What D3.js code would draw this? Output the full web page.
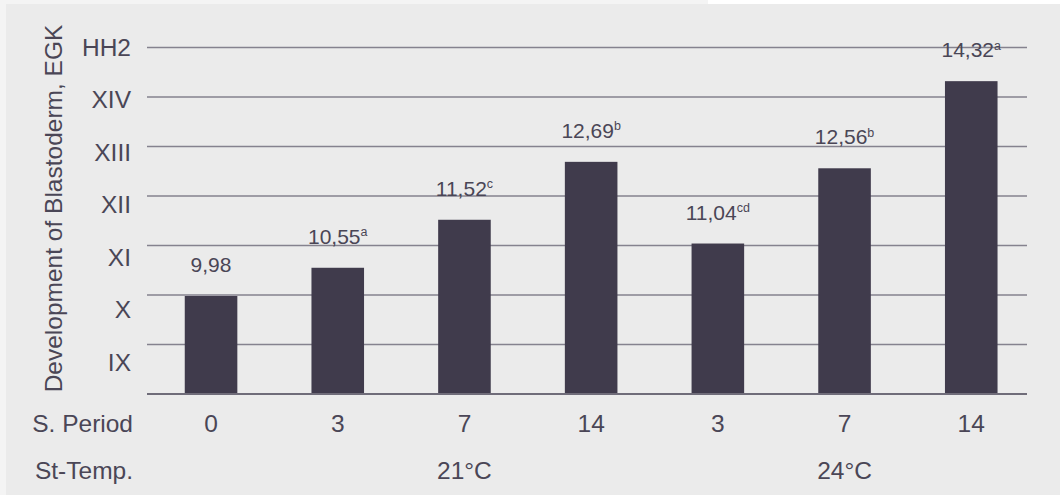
<!DOCTYPE html>
<html>
<head>
<meta charset="utf-8">
<script src="https://cdn.jsdelivr.net/npm/d3@7"></script>
<style>
  html, body { margin: 0; padding: 0; background: #f4f4f4; }
  svg { display: block; }
  text { font-family: "Liberation Sans", Arial, sans-serif; fill: #4a4656; }
</style>
</head>
<body>
<svg id="chart" width="1060" height="495"></svg>
<script>
// ---- data ----
const periods = ["0", "3", "7", "14", "3", "7", "14"];
const values = [9.98, 10.55, 11.52, 12.69, 11.04, 12.56, 14.32];
const valueLabels = ["9,98", "10,55", "11,52", "12,69", "11,04", "12,56", "14,32"];
const letters = ["", "a", "c", "b", "cd", "b", "a"];
const tickValues = [9, 10, 11, 12, 13, 14, 15];
const tickLabels = ["IX", "X", "XI", "XII", "XIII", "XIV", "HH2"];
const temps = ["21°C", "24°C"];
const tempGroups = [[1, 3], [4, 6]];
const yTitle = "Development of Blastoderm, EGK";
const rowTitles = ["S. Period", "St-Temp."];

// ---- layout ----
const W = 1060, H = 495;
const svg = d3.select("#chart");
svg.append("rect").attr("x", 0).attr("y", 0).attr("width", W).attr("height", H).attr("fill", "#f4f4f4");
svg.append("rect").attr("x", 708).attr("y", 0).attr("width", W - 708).attr("height", 4).attr("fill", "#ffffff");
svg.append("rect").attr("x", 6).attr("y", 4).attr("width", W - 6).attr("height", H - 4).attr("fill", "#ebebeb");

const gridLeft = 147, gridRight = 1027;
const y = d3.scaleLinear().domain([8, 15]).range([394, 47.5]);
const yLabel = d3.scaleLinear().domain([9, 15]).range([362, 47]);
const x = d3.scaleBand().domain(d3.range(values.length))
  .range([147.7, 1034.6]).paddingInner(0.585).paddingOuter(0.2925);

const axisFont = 24.5, valueFont = 21;

// gridlines
const gridVals = d3.range(8, 16);
svg.append("g").selectAll("line").data(gridVals).join("line")
  .attr("x1", gridLeft).attr("x2", gridRight)
  .attr("y1", d => y(d)).attr("y2", d => y(d))
  .attr("stroke", d => d === 8 ? "#6f6c79" : "#85828e")
  .attr("stroke-width", d => d === 8 ? 2.2 : 1.6);

// y tick labels
svg.append("g").selectAll("text").data(tickValues).join("text")
  .attr("x", 131).attr("y", d => yLabel(d))
  .attr("dy", "0.35em").attr("text-anchor", "end")
  .attr("font-size", axisFont)
  .text((d, i) => tickLabels[i]);

// y title
svg.append("text")
  .attr("transform", `translate(62,${(25 + 392) / 2}) rotate(-90)`)
  .attr("text-anchor", "middle").attr("font-size", axisFont)
  .text(yTitle);

// bars
svg.append("g").selectAll("rect").data(values).join("rect")
  .attr("x", (d, i) => x(i)).attr("width", x.bandwidth())
  .attr("y", d => y(d)).attr("height", d => y(8) - y(d))
  .attr("fill", "#403b4c");

// redraw baseline over bars
svg.append("line").attr("x1", gridLeft).attr("x2", gridRight)
  .attr("y1", y(8)).attr("y2", y(8)).attr("stroke", "#6f6c79").attr("stroke-width", 2.2);

// value labels
const vl = svg.append("g").selectAll("text").data(values).join("text")
  .attr("x", (d, i) => x(i) + x.bandwidth() / 2)
  .attr("y", d => y(d) - 24)
  .attr("text-anchor", "middle").attr("font-size", valueFont);
vl.append("tspan").text((d, i) => valueLabels[i]);
vl.append("tspan").attr("font-size", 12.5).attr("dy", -7.5).text((d, i) => letters[i]);

// period labels
svg.append("g").selectAll("text").data(periods).join("text")
  .attr("x", (d, i) => x(i) + x.bandwidth() / 2).attr("y", 423)
  .attr("dy", "0.35em").attr("text-anchor", "middle").attr("font-size", axisFont)
  .text(d => d);

// temperature labels
svg.append("g").selectAll("text").data(temps).join("text")
  .attr("x", (d, i) => (x(tempGroups[i][0]) + x(tempGroups[i][1]) + x.bandwidth()) / 2)
  .attr("y", 470).attr("dy", "0.35em").attr("text-anchor", "middle").attr("font-size", axisFont)
  .text(d => d);

// row titles
svg.append("g").selectAll("text").data(rowTitles).join("text")
  .attr("x", 133).attr("y", (d, i) => i === 0 ? 423 : 470)
  .attr("dy", "0.35em").attr("text-anchor", "end").attr("font-size", axisFont)
  .text(d => d);
</script>
</body>
</html>
